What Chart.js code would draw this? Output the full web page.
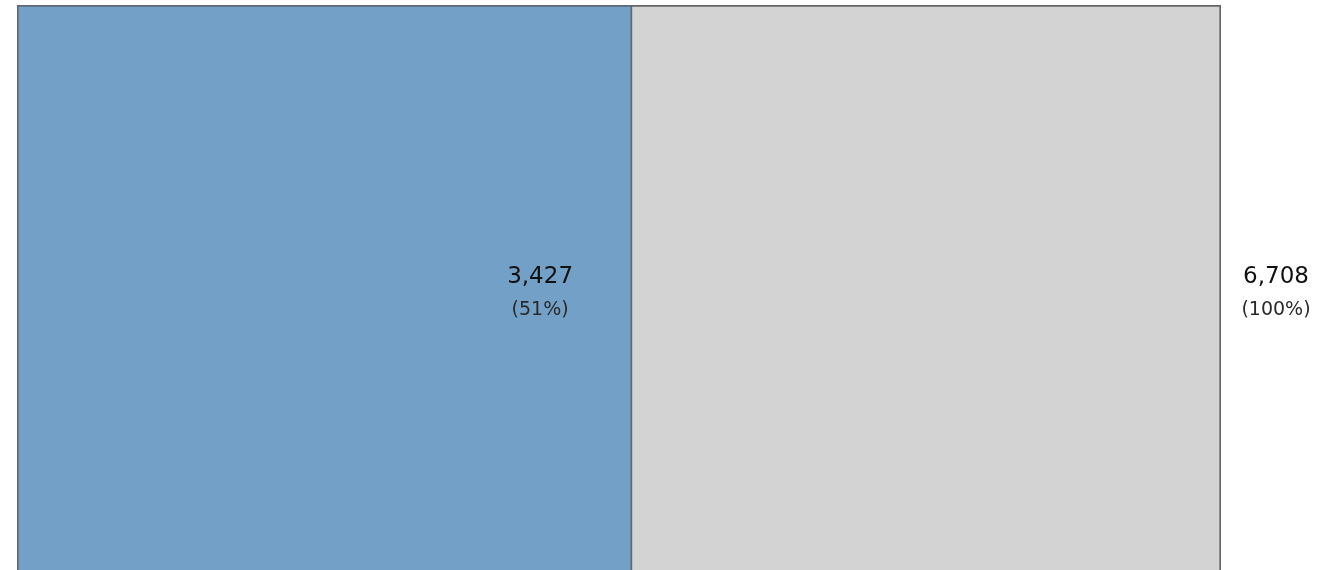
<!DOCTYPE html>
<html>
<head>
  <meta charset="UTF-8" />
  <title>Progress</title>
  <script src="https://cdn.jsdelivr.net/npm/chart.js"></script>
  <style>
    html, body { margin: 0; padding: 0; background: #fff; overflow: hidden; }
    #wrap { width: 1342px; height: 582px; }
  </style>
</head>
<body>
<div id="wrap"><canvas id="progressChart" width="1342" height="582"></canvas></div>
<script>
  const categories = ['Total'];
  const doneValues = [3427];
  const totalValues = [6708];
  const valueLabels = ['3,427', '6,708'];
  const percentLabels = ['(51%)', '(100%)'];

  // labels next to bar ends: inside for the part, outside for the total
  const endLabels = {
    id: 'endLabels',
    afterDatasetsDraw(chart) {
      const ctx = chart.ctx;
      const x = chart.scales.x;
      const area = chart.chartArea;
      const midY = (area.top + area.bottom) / 2;
      const spots = [
        { cx: x.getPixelForValue(doneValues[0]) - 92, i: 0 },
        { cx: x.getPixelForValue(totalValues[0]) + 55, i: 1 }
      ];
      ctx.save();
      ctx.textAlign = 'center';
      ctx.textBaseline = 'middle';
      spots.forEach(s => {
        ctx.fillStyle = '#111';
        ctx.font = '23px "DejaVu Sans", Verdana, sans-serif';
        ctx.fillText(valueLabels[s.i], s.cx, midY - 16);
        ctx.fillStyle = '#2a2a2a';
        ctx.font = '19px "DejaVu Sans", Verdana, sans-serif';
        ctx.fillText(percentLabels[s.i], s.cx, midY + 17);
      });
      ctx.restore();
    }
  };

  new Chart(document.getElementById('progressChart'), {
    type: 'bar',
    data: {
      labels: categories,
      datasets: [
        {
          data: doneValues,
          backgroundColor: '#73a0c6',
          borderColor: '#5f6a74',
          borderWidth: 2,
          borderSkipped: false
        },
        {
          data: totalValues,
          backgroundColor: '#d3d3d3',
          borderColor: '#666',
          borderWidth: 2,
          borderSkipped: false
        }
      ]
    },
    options: {
      indexAxis: 'y',
      responsive: false,
      animation: false,
      grouped: false,
      categoryPercentage: 1,
      barPercentage: 1,
      layout: { padding: { left: 17, right: 121, top: 5, bottom: 0 } },
      scales: {
        x: { display: false, min: 0, max: totalValues[0] },
        y: { display: false }
      },
      plugins: {
        legend: { display: false },
        tooltip: { enabled: false }
      }
    },
    plugins: [endLabels]
  });
</script>
</body>
</html>
